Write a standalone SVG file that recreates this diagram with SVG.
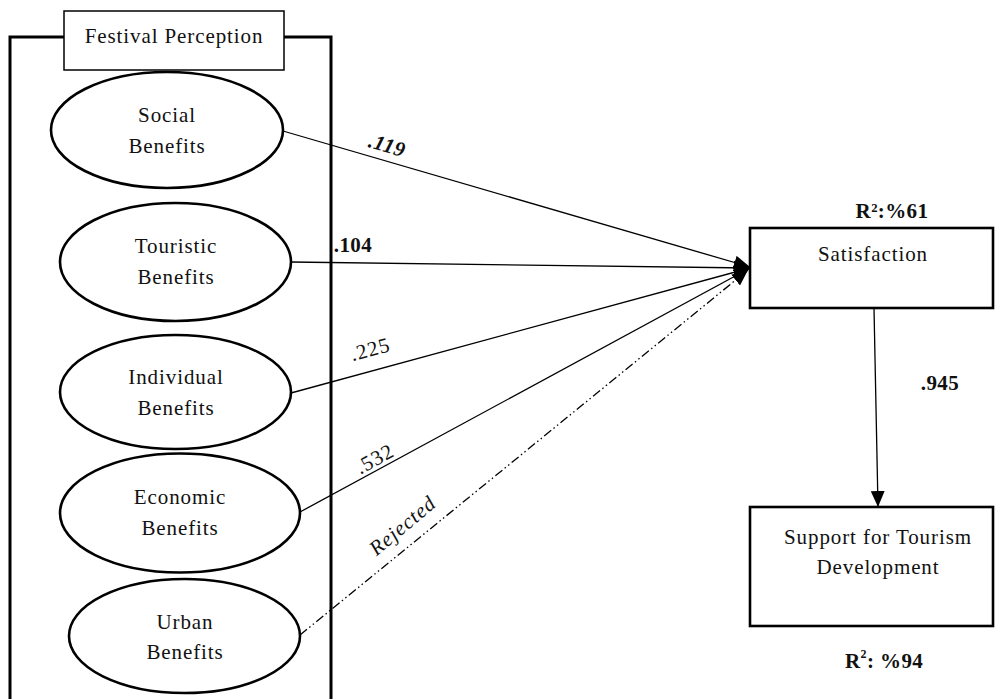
<svg xmlns="http://www.w3.org/2000/svg" width="995" height="699" viewBox="0 0 995 699">
<style>
text{font-family:"Liberation Serif","Times New Roman",serif;font-size:21px;fill:#111;letter-spacing:0.9px}
.c{text-anchor:middle}
.b{font-weight:bold;letter-spacing:0.4px}
.frame{fill:none;stroke:#000;stroke-width:3}
.ell{fill:#fff;stroke:#000;stroke-width:2.6}
.box{fill:#fff;stroke:#000;stroke-width:2.6}
.conn{fill:none;stroke:#000;stroke-width:1.3}
</style>
<defs>
<marker id="ah" markerUnits="userSpaceOnUse" markerWidth="18" markerHeight="14" refX="16" refY="7" orient="auto">
<path d="M0,0 L16,7 L0,14 Z" fill="#000"/>
</marker>
</defs>
<rect x="0" y="0" width="995" height="699" fill="#fff"/>
<g id="festival-perception">
<rect class="frame" x="10" y="37" width="321" height="700"/>
<rect x="64" y="11" width="220" height="59" fill="#fff" stroke="#000" stroke-width="1.5"/>
<text class="c" x="174" y="43">Festival Perception</text>
</g>
<g id="connectors">
<line class="conn" x1="283" y1="131" x2="750" y2="267" marker-end="url(#ah)"/>
<line class="conn" x1="291" y1="262" x2="750" y2="268" marker-end="url(#ah)"/>
<line class="conn" x1="291" y1="393" x2="750" y2="268" marker-end="url(#ah)"/>
<line class="conn" x1="300" y1="512" x2="750" y2="268" marker-end="url(#ah)"/>
<line class="conn" x1="300" y1="635" x2="748" y2="270" stroke-dasharray="9 3 1.5 3 1.5 3" marker-end="url(#ah)"/>
<line class="conn" x1="874" y1="308" x2="878" y2="507" marker-end="url(#ah)"/>
<text class="b c" font-style="italic" transform="translate(385,152) rotate(16.3)">.119</text>
<text class="b c" x="353" y="252">.104</text>
<text class="c" transform="translate(372,356) rotate(-15.2)">.225</text>
<text class="c" transform="translate(378,465) rotate(-28.6)">.532</text>
<text class="c" font-style="italic" font-size="19" transform="translate(407,531) rotate(-40)">Rejected</text>
<text class="b c" x="940" y="390">.945</text>
</g>
<g id="social-benefits">
<ellipse class="ell" cx="167" cy="130" rx="116" ry="58"/>
<text class="c" x="167" y="122">Social</text>
<text class="c" x="167" y="153">Benefits</text>
</g>
<g id="touristic-benefits">
<ellipse class="ell" cx="175.5" cy="262" rx="115.5" ry="59"/>
<text class="c" x="176" y="253">Touristic</text>
<text class="c" x="176" y="284">Benefits</text>
</g>
<g id="individual-benefits">
<ellipse class="ell" cx="175.5" cy="392" rx="115.5" ry="57"/>
<text class="c" x="176" y="384">Individual</text>
<text class="c" x="176" y="415">Benefits</text>
</g>
<g id="economic-benefits">
<ellipse class="ell" cx="180" cy="513" rx="120" ry="59.5"/>
<text class="c" x="180" y="504">Economic</text>
<text class="c" x="180" y="535">Benefits</text>
</g>
<g id="urban-benefits">
<ellipse class="ell" cx="184.5" cy="636" rx="115.5" ry="57"/>
<text class="c" x="185" y="629">Urban</text>
<text class="c" x="185" y="659">Benefits</text>
</g>
<g id="satisfaction">
<rect class="box" x="750" y="228" width="243" height="80"/>
<text class="c" x="873" y="261">Satisfaction</text>
<text class="b c" x="892" y="218" font-size="19">R²:%61</text>
</g>
<g id="support">
<rect class="box" x="750" y="507" width="243" height="119"/>
<text class="c" x="878" y="544">Support for Tourism</text>
<text class="c" x="878" y="574">Development</text>
<text class="b" x="845" y="668" font-size="20">R<tspan font-size="12" dy="-10">2</tspan><tspan dy="10">: %94</tspan></text>
</g>
</svg>
